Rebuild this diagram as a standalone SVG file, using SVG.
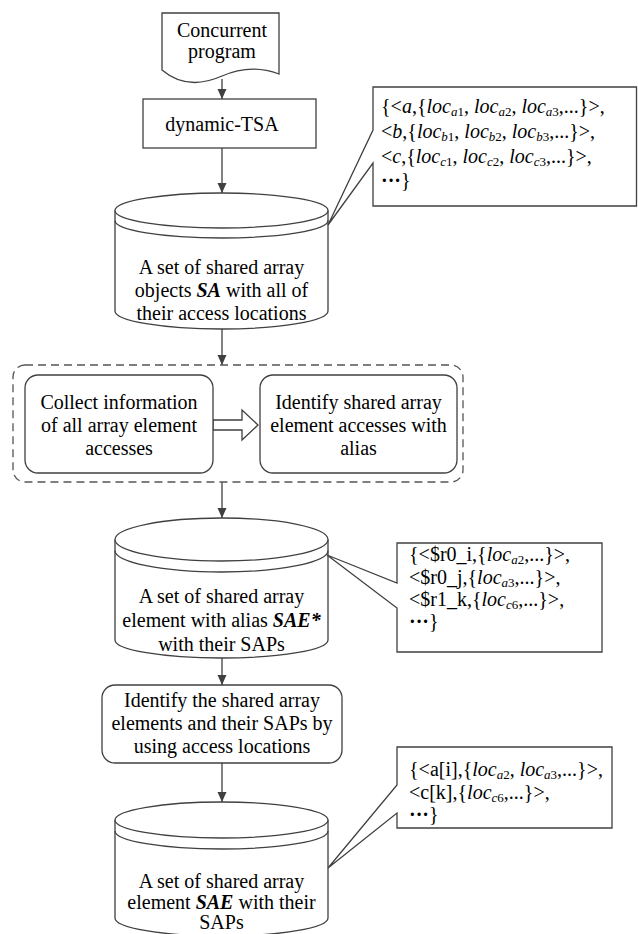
<svg xmlns="http://www.w3.org/2000/svg" width="638" height="934" viewBox="0 0 638 934">
<style>
text{font-family:"Liberation Serif","Times New Roman",serif;font-size:20px;fill:#000}
.c{text-anchor:middle}
.i{font-style:italic}
.bi{font-style:italic;font-weight:bold}
.sb{font-style:italic;font-size:13px}
.sd{font-size:13px}
.b{font-weight:bold}
.sh{fill:#fff;stroke:#404040;stroke-width:1.3}
.ln{fill:none;stroke:#404040;stroke-width:1.3}
.dash{fill:none;stroke:#555;stroke-width:1.3;stroke-dasharray:8 5}
</style>
<defs>
<marker id="ah" markerWidth="10" markerHeight="10" refX="10" refY="4.5" orient="auto" markerUnits="userSpaceOnUse">
<path d="M0,0 L10,4.5 L0,9 Z" fill="#404040"/>
</marker>
</defs>

<g id="connectors">
<line class="ln" x1="222" y1="79" x2="222" y2="99" marker-end="url(#ah)"/>
<line class="ln" x1="222" y1="148" x2="222" y2="193" marker-end="url(#ah)"/>
<line class="ln" x1="222" y1="329" x2="222" y2="365" marker-end="url(#ah)"/>
<line class="ln" x1="222" y1="482" x2="222" y2="518" marker-end="url(#ah)"/>
<line class="ln" x1="222" y1="658" x2="222" y2="685" marker-end="url(#ah)"/>
<line class="ln" x1="222" y1="763" x2="222" y2="802" marker-end="url(#ah)"/>
<path class="sh" d="M213,420 H242 V410 L258,425 L242,440 V430 H213 Z"/>
</g>

<g id="doc">
<path class="sh" d="M162,13 H279 V74 C258,66 240,68 222,76 C204,84 182,87 162,70 Z"/>
<text class="c" x="222" y="37">Concurrent</text>
<text class="c" x="222" y="58">program</text>
</g>

<g id="tsa">
<rect class="sh" x="143" y="99" width="173" height="49"/>
<text class="c" x="222" y="131">dynamic-TSA</text>
</g>

<g id="db1">
<path class="sh" d="M115,210.5 V311 A106.5,18 0 0 0 328,311 V210.5"/>
<ellipse class="sh" cx="221.5" cy="210.5" rx="106.5" ry="17.5"/>
<path class="ln" d="M115,220.5 A106.5,17.5 0 0 0 328,220.5"/>
<text class="c" x="221.5" y="274">A set of shared array</text>
<text class="c" x="221.5" y="297">objects <tspan class="bi">SA</tspan> with all of</text>
<text class="c" x="221.5" y="320">their access locations</text>
</g>

<g id="note1">
<path class="sh" d="M373,130 V87 H636.5 V206 H373 V163 L328,225 Z"/>
<text x="381" y="113">{&lt;<tspan class="i">a</tspan>,{<tspan class="i">loc</tspan><tspan class="sb" dy="3">a</tspan><tspan class="sd">1</tspan><tspan dy="-3">, </tspan><tspan class="i">loc</tspan><tspan class="sb" dy="3">a</tspan><tspan class="sd">2</tspan><tspan dy="-3">, </tspan><tspan class="i">loc</tspan><tspan class="sb" dy="3">a</tspan><tspan class="sd">3</tspan><tspan dy="-3">,...}&gt;,</tspan></text>
<text x="381" y="138">&lt;<tspan class="i">b</tspan>,{<tspan class="i">loc</tspan><tspan class="sb" dy="3">b</tspan><tspan class="sd">1</tspan><tspan dy="-3">, </tspan><tspan class="i">loc</tspan><tspan class="sb" dy="3">b</tspan><tspan class="sd">2</tspan><tspan dy="-3">, </tspan><tspan class="i">loc</tspan><tspan class="sb" dy="3">b</tspan><tspan class="sd">3</tspan><tspan dy="-3">,...}&gt;,</tspan></text>
<text x="381" y="163">&lt;<tspan class="i">c</tspan>,{<tspan class="i">loc</tspan><tspan class="sb" dy="3">c</tspan><tspan class="sd">1</tspan><tspan dy="-3">, </tspan><tspan class="i">loc</tspan><tspan class="sb" dy="3">c</tspan><tspan class="sd">2</tspan><tspan dy="-3">, </tspan><tspan class="i">loc</tspan><tspan class="sb" dy="3">c</tspan><tspan class="sd">3</tspan><tspan dy="-3">,...}&gt;,</tspan></text>
<text x="381" y="187"><tspan class="b">···</tspan>}</text>
</g>

<g id="group">
<rect class="dash" x="13" y="365" width="450" height="117" rx="12"/>
</g>

<g id="collect">
<rect class="sh" x="25" y="375" width="188" height="98" rx="13"/>
<text class="c" x="119" y="409">Collect information</text>
<text class="c" x="119" y="432">of all array element</text>
<text class="c" x="119" y="455">accesses</text>
</g>

<g id="identify-alias">
<rect class="sh" x="260" y="375" width="197" height="98" rx="13"/>
<text class="c" x="358.5" y="409">Identify shared array</text>
<text class="c" x="358.5" y="432">element accesses with</text>
<text class="c" x="358.5" y="455">alias</text>
</g>

<g id="db2">
<path class="sh" d="M115,539.5 V640 A106.5,18 0 0 0 328,640 V539.5"/>
<ellipse class="sh" cx="221.5" cy="539.5" rx="106.5" ry="21.5"/>
<path class="ln" d="M115,550.5 A106.5,21.5 0 0 0 328,550.5"/>
<text class="c" x="221.5" y="603">A set of shared array</text>
<text class="c" x="221.5" y="627">element with alias <tspan class="bi">SAE*</tspan></text>
<text class="c" x="221.5" y="651">with their SAPs</text>
</g>

<g id="note2">
<path class="sh" d="M397,583 V543 H602 V652 H397 V608 L327,555 Z"/>
<text x="409" y="561">{&lt;$r0_i,{<tspan class="i">loc</tspan><tspan class="sb" dy="3">a</tspan><tspan class="sd">2</tspan><tspan dy="-3">,...}&gt;,</tspan></text>
<text x="409" y="584">&lt;$r0_j,{<tspan class="i">loc</tspan><tspan class="sb" dy="3">a</tspan><tspan class="sd">3</tspan><tspan dy="-3">,...}&gt;,</tspan></text>
<text x="409" y="606">&lt;$r1_k,{<tspan class="i">loc</tspan><tspan class="sb" dy="3">c</tspan><tspan class="sd">6</tspan><tspan dy="-3">,...}&gt;,</tspan></text>
<text x="409" y="628"><tspan class="b">···</tspan>}</text>
</g>

<g id="identify-elements">
<rect class="sh" x="102" y="685" width="240" height="78" rx="13"/>
<text class="c" x="222" y="707">Identify the shared array</text>
<text class="c" x="222" y="730">elements and their SAPs by</text>
<text class="c" x="222" y="753">using access locations</text>
</g>

<g id="db3">
<path class="sh" d="M115,820 V918 A106.5,18 0 0 0 328,918 V820"/>
<ellipse class="sh" cx="221.5" cy="820" rx="106.5" ry="18"/>
<path class="ln" d="M115,831 A106.5,18 0 0 0 328,831"/>
<text class="c" x="221.5" y="888">A set of shared array</text>
<text class="c" x="221.5" y="909">element <tspan class="bi">SAE</tspan> with their</text>
<text class="c" x="221.5" y="929">SAPs</text>
</g>

<g id="note3">
<path class="sh" d="M397,785 V747 H612 V828 H397 V813 L328,868 Z"/>
<text x="409" y="776">{&lt;a[i],{<tspan class="i">loc</tspan><tspan class="sb" dy="3">a</tspan><tspan class="sd">2</tspan><tspan dy="-3">, </tspan><tspan class="i">loc</tspan><tspan class="sb" dy="3">a</tspan><tspan class="sd">3</tspan><tspan dy="-3">,...}&gt;,</tspan></text>
<text x="409" y="799">&lt;c[k],{<tspan class="i">loc</tspan><tspan class="sb" dy="3">c</tspan><tspan class="sd">6</tspan><tspan dy="-3">,...}&gt;,</tspan></text>
<text x="409" y="821"><tspan class="b">···</tspan>}</text>
</g>
</svg>
